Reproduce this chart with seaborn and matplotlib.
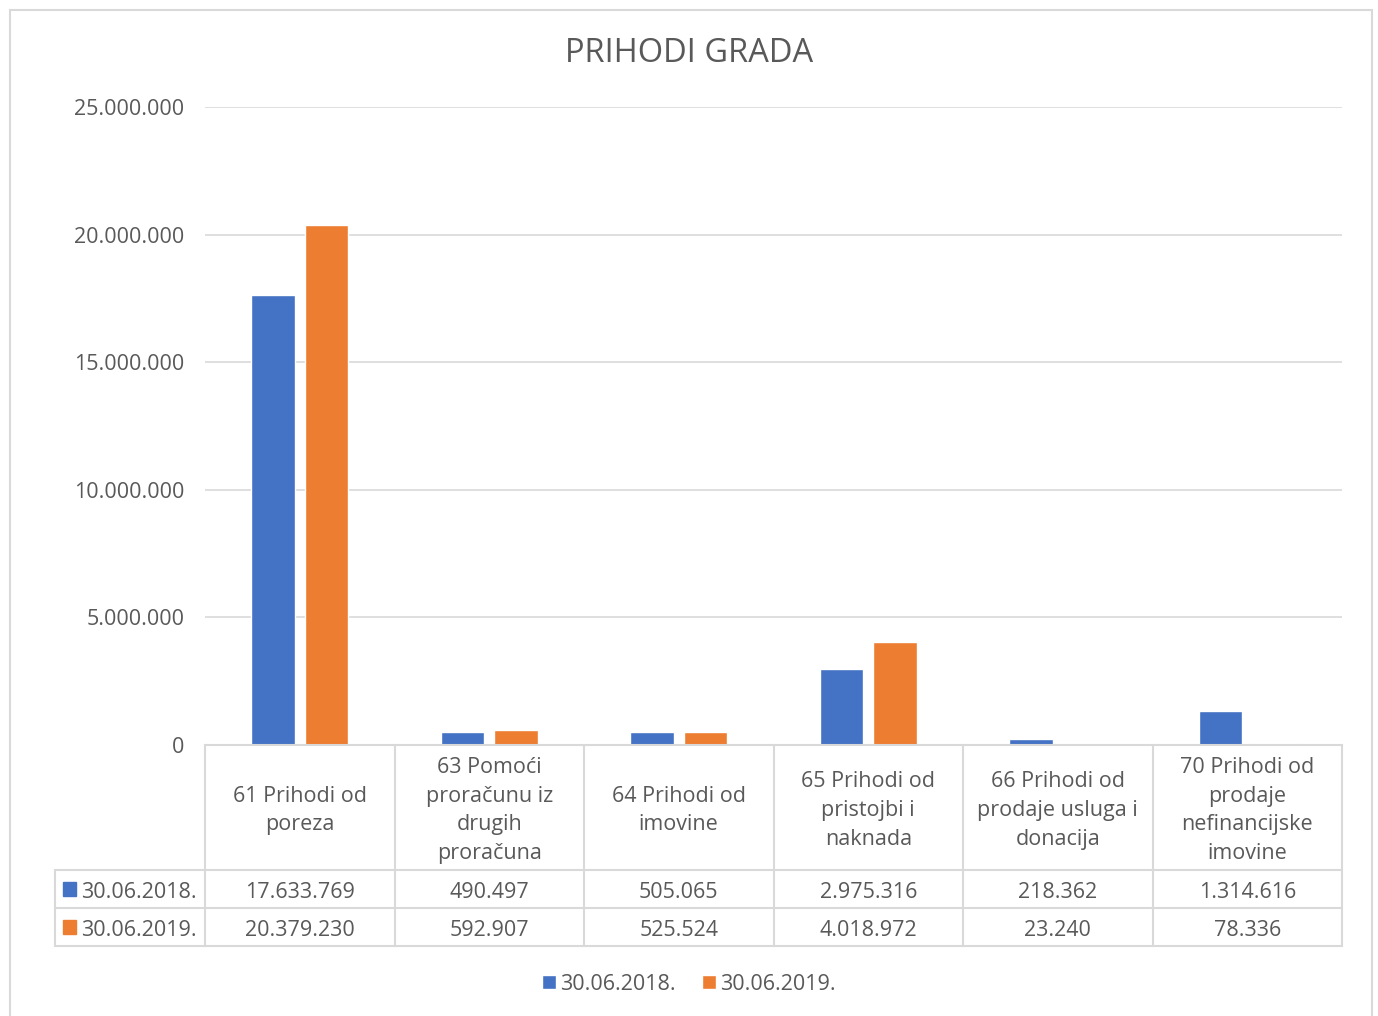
import pandas as pd
import seaborn as sns
import matplotlib.pyplot as plt
from matplotlib.patches import Rectangle

kategorije = ['61 Prihodi od\nporeza',
              '63 Pomoći\nproračunu iz\ndrugih\nproračuna',
              '64 Prihodi od\nimovine',
              '65 Prihodi od\npristojbi i\nnaknada',
              '66 Prihodi od\nprodaje usluga i\ndonacija',
              '70 Prihodi od\nprodaje\nnefinancijske\nimovine']
razdoblja = ['30.06.2018.', '30.06.2019.']
iznosi_2018 = [17633769, 490497, 505065, 2975316, 218362, 1314616]
iznosi_2019 = [20379230, 592907, 525524, 4018972, 23240, 78336]
boje = ['#4472C4', '#ED7D31']

SIVA = '#595959'
LINIJA = '#D9D9D9'


def fmt(v):
    return f'{v:,.0f}'.replace(',', '.')


def main():
    df = pd.DataFrame({
        'kategorija': kategorije * 2,
        'razdoblje': [razdoblja[0]] * 6 + [razdoblja[1]] * 6,
        'iznos': iznosi_2018 + iznosi_2019,
    })

    sns.set_theme(style='white')
    plt.rcParams['font.family'] = ['Open Sans', 'DejaVu Sans']

    fig, ax = plt.subplots(figsize=(13.78, 10.16), dpi=100)
    fig.subplots_adjust(left=205 / 1378, right=1342 / 1378,
                        top=1 - 107 / 1016, bottom=1 - 745 / 1016)

    sns.barplot(df, x='kategorija', y='iznos', hue='razdoblje', palette=boje,
                width=0.56, gap=0.18, saturation=1, ax=ax)
    ax.set_xlim(-0.5, 5.5)
    ax.set_ylim(0, 25000000)
    ax.set_yticks(range(0, 25000001, 5000000))
    ax.set_yticklabels([fmt(v) for v in ax.get_yticks()])
    ax.tick_params(axis='y', length=0, pad=15, labelsize=15.5, labelcolor=SIVA)
    ax.set_xticks([])
    ax.set_xlabel('')
    ax.set_ylabel('')
    ax.yaxis.grid(True, color=LINIJA, lw=1.2)
    ax.set_axisbelow(True)
    for s in ['left', 'right', 'top']:
        ax.spines[s].set_visible(False)
    ax.spines['bottom'].set_color(LINIJA)
    ax.spines['bottom'].set_linewidth(1.5)

    handles, labels = ax.get_legend_handles_labels()
    ax.get_legend().remove()

    # tablica s podacima
    tr = ax.transAxes
    xl = (55 - 205) / 1137
    y_hdr = -125 / 638
    y_r1 = -163 / 638
    y_r2 = -201 / 638
    kw = dict(transform=tr, color=LINIJA, lw=1.5, clip_on=False)
    for y in [y_hdr, y_r1, y_r2]:
        ax.plot([xl, 1], [y, y], **kw)
    for k in range(7):
        ax.plot([k / 6, k / 6], [0, y_r2], **kw)
    ax.plot([xl, xl], [y_hdr, y_r2], **kw)

    dy = -3 / 638
    for i, kat in enumerate(kategorije):
        xc = (i + 0.5) / 6
        ax.text(xc, y_hdr / 2 + dy, kat, transform=tr, ha='center', va='center',
                fontsize=15.5, color=SIVA, linespacing=1.47)
        ax.text(xc, (y_hdr + y_r1) / 2 + dy, fmt(iznosi_2018[i]), transform=tr,
                ha='center', va='center', fontsize=15.5, color=SIVA)
        ax.text(xc, (y_r1 + y_r2) / 2 + dy, fmt(iznosi_2019[i]), transform=tr,
                ha='center', va='center', fontsize=15.5, color=SIVA)

    for yc, lab, c in zip([(y_hdr + y_r1) / 2, (y_r1 + y_r2) / 2], razdoblja, boje):
        ax.add_patch(Rectangle(((63 - 205) / 1137, yc - 0.0102), 0.0114, 0.0204,
                               transform=tr, color=c, clip_on=False))
        ax.text((81 - 205) / 1137, yc + dy, lab, transform=tr, ha='left', va='center',
                fontsize=15.5, color=SIVA)

    fig.legend(handles, labels, loc='center', bbox_to_anchor=(0.5, 1 - 984 / 1016),
               ncol=2, frameon=False, fontsize=15.5, labelcolor=SIVA,
               handlelength=0.65, handleheight=0.65, handletextpad=0.2,
               columnspacing=1.2)

    fig.text(0.5, 1 - 53 / 1016, 'PRIHODI GRADA', ha='center', va='center',
             fontsize=23.5, color=SIVA)

    fig.patches.append(Rectangle((10 / 1378, -0.01), 1362 / 1378, 1 - 10 / 1016 + 0.01,
                                 transform=fig.transFigure, fill=False,
                                 edgecolor=LINIJA, lw=1.5))

    plt.savefig('out.png', dpi=100)
    plt.clf()


if __name__ == '__main__':
    main()
